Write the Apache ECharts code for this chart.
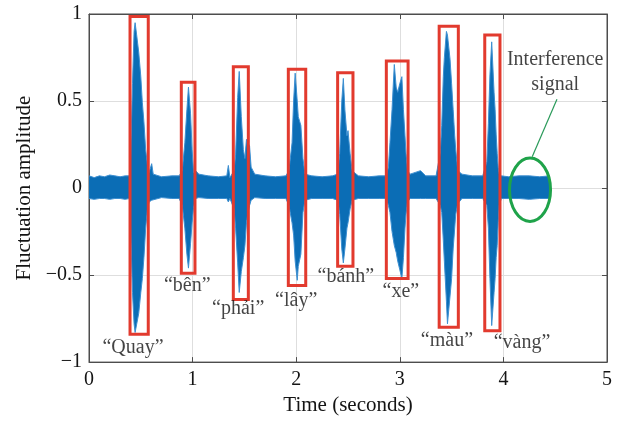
<!DOCTYPE html>
<html>
<head>
<meta charset="utf-8">
<script src="https://cdn.jsdelivr.net/npm/echarts@6/dist/echarts.min.js"></script>
<style>html,body{margin:0;padding:0;background:#fff}#c{width:621px;height:421px}</style>
</head>
<body>
<div id="c"></div>
<script>
// Envelope of the speech waveform (time in seconds, upper/lower amplitude)
const timeSec = [0,0.05,0.1,0.15,0.2,0.25,0.3,0.35,0.39,
  0.40,0.42,0.435,0.445,0.46,0.48,0.50,0.515,0.53,0.547,0.565,0.58,0.605,0.62,0.7,0.8,0.87,
  0.9,0.925,0.945,0.96,0.98,0.995,1.01,1.03,1.06,1.15,1.25,1.33,1.345,1.36,1.4,
  1.415,1.435,1.45,1.47,1.49,1.505,1.52,1.535,1.55,1.565,1.6,1.7,1.8,1.9,
  1.93,1.96,1.975,1.99,2.01,2.02,2.045,2.065,2.085,2.15,2.25,2.35,2.4,
  2.42,2.44,2.455,2.47,2.49,2.50,2.52,2.54,2.6,2.7,2.8,2.87,
  2.89,2.905,2.925,2.947,2.965,2.98,3.0,3.02,3.035,3.05,3.06,3.075,3.1,3.2,3.25,3.35,
  3.39,3.405,3.42,3.43,3.45,3.46,3.485,3.5,3.515,3.53,3.54,3.56,3.6,3.7,3.8,
  3.84,3.855,3.87,3.887,3.91,3.92,3.93,3.94,3.95,3.96,3.98,4.05,4.15,4.25,4.35,4.45];
const upperEnv = [0.07,0.06,0.07,0.065,0.075,0.07,0.065,0.07,0.07,
  0.15,0.6,0.9,0.95,0.88,0.78,0.64,0.49,0.38,0.22,0.13,0.09,0.14,0.08,0.065,0.07,0.07,
  0.1,0.26,0.45,0.58,0.43,0.22,0.09,0.1,0.08,0.07,0.065,0.07,0.13,0.06,0.1,
  0.19,0.52,0.67,0.41,0.22,0.17,0.28,0.28,0.24,0.12,0.08,0.07,0.065,0.07,
  0.1,0.26,0.5,0.66,0.5,0.41,0.36,0.17,0.08,0.07,0.065,0.07,0.08,
  0.2,0.5,0.63,0.45,0.3,0.33,0.2,0.1,0.07,0.065,0.07,0.07,
  0.12,0.26,0.45,0.71,0.58,0.55,0.6,0.64,0.45,0.3,0.2,0.1,0.08,0.1,0.07,0.07,
  0.2,0.36,0.64,0.75,0.90,0.88,0.74,0.6,0.45,0.3,0.22,0.1,0.08,0.07,0.07,
  0.15,0.37,0.65,0.84,0.55,0.45,0.31,0.2,0.12,0.08,0.07,0.065,0.07,0.07,0.065,0.07];
const lowerEnv = [-0.06,-0.065,-0.06,-0.06,-0.065,-0.06,-0.06,-0.065,-0.06,
  -0.2,-0.6,-0.78,-0.83,-0.83,-0.72,-0.6,-0.52,-0.4,-0.23,-0.12,-0.08,-0.07,-0.06,-0.055,-0.06,-0.06,
  -0.1,-0.23,-0.38,-0.46,-0.32,-0.2,-0.11,-0.06,-0.055,-0.06,-0.06,-0.06,-0.08,-0.06,-0.12,
  -0.23,-0.43,-0.60,-0.48,-0.40,-0.33,-0.2,-0.14,-0.1,-0.07,-0.055,-0.06,-0.06,-0.06,
  -0.1,-0.2,-0.27,-0.42,-0.53,-0.45,-0.38,-0.14,-0.07,-0.06,-0.06,-0.06,-0.07,
  -0.15,-0.35,-0.43,-0.35,-0.23,-0.2,-0.12,-0.07,-0.06,-0.06,-0.06,-0.06,
  -0.1,-0.14,-0.25,-0.33,-0.37,-0.42,-0.47,-0.52,-0.4,-0.23,-0.15,-0.08,-0.06,-0.06,-0.06,-0.06,
  -0.1,-0.14,-0.3,-0.42,-0.65,-0.78,-0.62,-0.52,-0.35,-0.23,-0.15,-0.09,-0.06,-0.06,-0.06,
  -0.1,-0.23,-0.52,-0.79,-0.6,-0.52,-0.4,-0.33,-0.2,-0.1,-0.06,-0.06,-0.06,-0.065,-0.06,-0.06];

// Word boxes
const words = ['\u201CQuay\u201D','\u201Cb\u00EAn\u201D','\u201Cph\u1EA3i\u201D','\u201Cl\u00E2y\u201D','\u201Cb\u00E1nh\u201D','\u201Cxe\u201D','\u201Cm\u00E0u\u201D','\u201Cv\u00E0ng\u201D'];
const boxStart  = [0.396,0.891,1.393,1.924,2.400,2.870,3.380,3.820];
const boxEnd    = [0.572,1.023,1.538,2.092,2.548,3.080,3.565,3.967];
const boxTop    = [0.986,0.608,0.697,0.682,0.663,0.73,0.93,0.88];
const boxBottom = [-0.84,-0.49,-0.64,-0.56,-0.45,-0.52,-0.80,-0.82];
const labelX = [0.425,0.948,1.44,2.0,2.48,3.01,3.455,4.18];
const labelY = [-0.92,-0.56,-0.695,-0.645,-0.51,-0.595,-0.875,-0.89];

// Interference annotation
const noiseEllipse = [4.257,-0.01,0.198,0.182];
const annotText = 'Interference\nsignal';
const annotPos = [4.5,0.665];
const pointerLine = [[4.517,0.51],[4.278,0.18]];

const xTickValues = [0,1,2,3,4,5];
const xTickLabels = ['0','1','2','3','4','5'];
const yTickValues = [-1,-0.5,0,0.5,1];
const yTickLabels = ['\u22121','\u22120.5','0','0.5','1'];

const FONT = 'Liberation Serif';
const TXT = '#141414';
const chart = echarts.init(document.getElementById('c'));
const upperData = timeSec.map((t,i)=>[t,upperEnv[i]]);
const lowerData = timeSec.map((t,i)=>[t,lowerEnv[i]]);
const boxData = words.map((w,i)=>[boxStart[i],boxEnd[i],boxTop[i],boxBottom[i]]);
const labelData = words.map((w,i)=>({name:w,value:[labelX[i],labelY[i]]}));
const blue = '#0b6db5';
const axisCol = '#4d4d4d';

chart.setOption({
  animation:false,
  grid:{left:89,right:14,top:14,bottom:56,show:true,borderColor:axisCol,borderWidth:1},
  xAxis:[{
    type:'value',min:0,max:5,interval:1,
    name:'Time (seconds)',nameLocation:'middle',nameGap:32,
    nameTextStyle:{fontFamily:FONT,fontSize:21,color:TXT},
    axisLine:{show:true,onZero:false,lineStyle:{color:axisCol}},
    axisTick:{show:true,inside:true,length:5,lineStyle:{color:axisCol}},
    axisLabel:{fontFamily:FONT,fontSize:20,color:TXT,margin:8,
      formatter:v=>xTickLabels[xTickValues.indexOf(v)]},
    splitLine:{show:true,lineStyle:{color:'#dedede',width:1}}
  },{
    type:'value',min:0,max:5,interval:1,position:'top',
    axisLine:{show:true,onZero:false,lineStyle:{color:axisCol}},
    axisTick:{show:true,inside:true,length:5,lineStyle:{color:axisCol}},
    axisLabel:{show:false},splitLine:{show:false}
  }],
  yAxis:[{
    type:'value',min:-1,max:1,interval:0.5,
    name:'Fluctuation amplitude',nameLocation:'middle',nameGap:53,
    nameTextStyle:{fontFamily:FONT,fontSize:21,color:TXT},
    axisLine:{show:true,onZero:false,lineStyle:{color:axisCol}},
    axisTick:{show:true,inside:true,length:5,lineStyle:{color:axisCol}},
    axisLabel:{fontFamily:FONT,fontSize:20,color:TXT,margin:7,
      formatter:v=>yTickLabels[yTickValues.indexOf(v)]},
    splitLine:{show:true,lineStyle:{color:'#dedede',width:1}}
  },{
    type:'value',min:-1,max:1,interval:0.5,position:'right',
    axisLine:{show:true,onZero:false,lineStyle:{color:axisCol}},
    axisTick:{show:true,inside:true,length:5,lineStyle:{color:axisCol}},
    axisLabel:{show:false},splitLine:{show:false}
  }],
  series:[
    {type:'line',data:upperData,symbol:'none',lineStyle:{color:'#3d8fd1',width:1},
      areaStyle:{color:blue,opacity:1,origin:0},z:2},
    {type:'line',data:lowerData,symbol:'none',lineStyle:{color:'#3d8fd1',width:1},
      areaStyle:{color:blue,opacity:1,origin:0},z:2},
    {type:'custom',data:boxData,encode:{x:[0,1],y:[2,3]},z:5,
      renderItem:(params,api)=>{
        const p0=api.coord([api.value(0),api.value(2)]);
        const p1=api.coord([api.value(1),api.value(3)]);
        return {type:'rect',shape:{x:p0[0],y:p0[1],width:p1[0]-p0[0],height:p1[1]-p0[1]},
          style:{fill:'none',stroke:'#e23a2e',lineWidth:3}};
      }},
    {type:'custom',data:[noiseEllipse],encode:{x:0,y:1},z:5,
      renderItem:(params,api)=>{
        const c=api.coord([api.value(0),api.value(1)]);
        const s=api.size([api.value(2),api.value(3)]);
        return {type:'path',shape:{pathData:'M0,1 A1,1 0 1,0 2,1 A1,1 0 1,0 0,1 Z',
          x:c[0]-s[0],y:c[1]-s[1],width:2*s[0],height:2*s[1],layout:'cover'},
          style:{fill:'none',stroke:'#1fa34a',lineWidth:3}};
      }},
    {type:'line',data:pointerLine,symbol:'none',lineStyle:{color:'#2a9a5a',width:1.2},z:4},
    {type:'scatter',data:labelData,symbolSize:0,z:6,
      label:{show:true,position:'inside',formatter:'{b}',fontFamily:FONT,fontSize:20,color:TXT}},
    {type:'scatter',data:[{name:annotText,value:annotPos}],symbolSize:0,z:6,
      label:{show:true,position:'inside',formatter:'{b}',fontFamily:FONT,fontSize:20,
        lineHeight:25,align:'center',color:TXT}}
  ]
});
</script>
</body>
</html>
